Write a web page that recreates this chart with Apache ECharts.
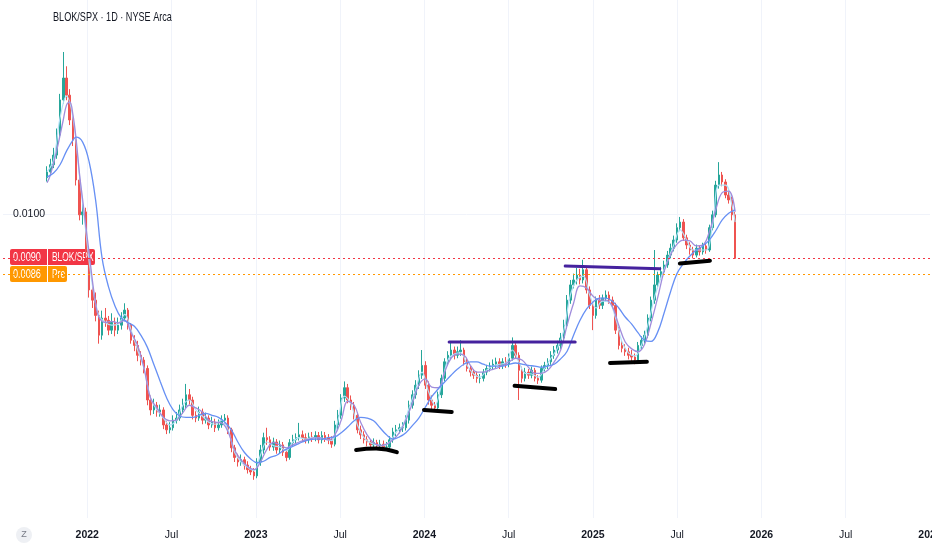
<!DOCTYPE html>
<html><head><meta charset="utf-8">
<script src="https://cdn.jsdelivr.net/npm/echarts@6/dist/echarts.min.js"></script>
<style>html,body{margin:0;padding:0;background:#fff}#c{width:932px;height:550px}</style>
</head><body><div id="c"></div>
<script>
// BLOK/SPX ratio, weekly bars. Values in units of 1e-5 (1000 = 0.0100)
const startDate = '2021-10-06';
const opens = [1090,1105,1124,1150,1206,1311,1381,1326,1250,1192,
1084,998,1005,918,835,815,786,750,781,777,
759,773,759,768,781,796,768,741,732,715,
707,693,643,628,635,625,628,606,599,602,
613,616,628,635,651,643,620,616,625,613,
616,606,610,602,606,613,616,599,574,561,
555,558,551,545,542,537,555,571,588,585,
575,582,571,578,568,561,581,585,588,592,
588,585,589,588,591,585,591,588,585,579,
606,620,646,662,643,635,620,599,592,585,
582,578,581,577,579,575,575,585,596,599,
602,602,613,635,651,666,682,698,666,643,
635,631,651,677,704,715,724,715,721,724,
704,693,687,682,677,677,687,693,697,700,
704,698,704,700,710,732,715,690,677,687,
682,690,677,674,693,698,704,715,724,732,
745,768,815,845,855,865,855,876,835,805,
786,815,805,819,825,815,805,759,732,727,
721,715,712,707,732,741,750,781,815,845,
865,872,886,907,922,940,968,981,945,929,
918,907,922,914,927,918,968,998,1071,1097,
1079,1046,1034,998];
const closes = [1105,1124,1150,1206,1311,1381,1326,1250,1192,1084,
998,1005,918,835,815,786,750,781,777,759,
773,759,768,781,796,768,741,732,715,707,
693,643,628,635,625,628,606,599,602,613,
616,628,635,651,643,620,616,625,613,616,
606,610,602,606,613,616,599,574,561,555,
558,551,545,542,537,555,571,588,585,575,
582,571,578,568,561,581,585,588,592,588,
585,589,588,591,585,591,588,585,579,606,
620,646,662,643,635,620,599,592,585,582,
578,581,577,579,575,575,585,596,599,602,
602,613,635,651,666,682,698,666,643,635,
631,651,677,704,715,724,715,721,724,704,
693,687,682,677,677,687,693,697,700,704,
698,704,700,710,732,715,690,677,687,682,
690,677,674,693,698,704,715,724,732,745,
768,815,845,855,865,855,876,835,805,786,
815,805,819,825,815,805,759,732,727,721,
715,712,707,732,741,750,781,815,845,865,
872,886,907,922,940,968,981,945,929,918,
907,922,914,927,918,968,998,1071,1097,1079,
1046,1034,998,900];
const highs = [1120,1140,1170,1225,1330,1469,1420,1345,1265,1200,
1095,1030,1015,925,850,830,795,795,800,785,
790,782,782,792,809,800,772,750,740,722,
712,698,650,645,640,636,632,612,610,620,
625,636,645,668,660,648,626,633,630,624,
620,618,615,614,620,622,620,602,578,566,
565,562,556,550,547,560,578,595,602,590,
588,586,584,582,572,586,592,594,609,598,
594,595,596,597,596,597,596,593,590,612,
628,652,672,668,650,640,624,605,597,590,
586,587,585,585,584,582,590,602,606,608,
610,620,642,658,674,690,724,705,672,650,
640,656,683,710,722,738,730,730,741,728,
710,698,692,688,684,692,699,703,708,711,
710,710,712,718,746,736,720,696,694,692,
696,694,682,698,704,710,722,731,740,754,
778,825,855,868,880,878,897,882,842,812,
822,825,826,834,832,822,810,765,740,734,
728,724,718,738,748,758,788,822,918,872,
882,895,916,932,950,978,993,988,952,935,
925,930,928,934,932,975,1008,1082,1131,1105,
1086,1055,1042,1005];
const lows = [1080,1095,1115,1140,1195,1300,1310,1235,1175,1070,
985,975,900,820,800,775,735,742,765,750,
752,748,752,760,775,760,735,722,705,698,
685,635,620,622,618,618,600,593,594,598,
608,612,622,630,636,614,610,612,607,608,
600,602,596,598,602,608,593,568,555,549,
550,545,540,538,532,534,550,566,578,570,
570,566,566,563,556,558,576,580,584,582,
580,580,582,583,580,580,582,579,574,576,
600,615,640,638,628,614,594,586,580,576,
573,574,572,573,571,570,572,581,590,594,
596,598,608,630,645,660,676,660,636,628,
625,627,646,672,698,708,708,710,714,698,
688,680,676,670,669,672,682,688,692,694,
692,692,694,695,706,710,643,670,672,676,
677,672,668,670,688,692,699,709,718,726,
740,762,808,838,846,846,848,828,798,759,
780,798,798,812,808,798,752,725,720,714,
708,705,700,704,726,735,745,775,808,838,
856,865,880,900,915,934,960,938,920,908,
900,902,906,908,910,914,962,992,1062,1068,
1038,1025,985,900];
// moving averages: [week index, value]
const maFast = [[0,1105],[2,1137],[4,1256],[6,1323],[8,1256],[10,1097],[12,958],[14,845],[16,786],[18,773],[20,768],[22,770],[24,788],[26,759],[28,724],[30,693],[32,646],[34,628],[36,616],[38,606],[40,613],[42,635],[44,643],[46,628],[48,619],[50,610],[52,607],[54,613],[56,599],[58,568],[60,555],[62,548],[64,544],[66,564],[68,582],[70,577],[72,575],[74,570],[76,582],[78,588],[80,586],[82,588],[84,588],[86,586],[88,584],[90,613],[92,649],[94,637],[96,606],[98,588],[100,581],[102,578],[104,577],[106,582],[108,596],[110,605],[112,631],[114,659],[116,687],[118,656],[120,635],[122,666],[124,707],[126,717],[128,719],[130,698],[132,684],[134,679],[136,690],[138,697],[140,700],[142,702],[144,724],[146,704],[148,685],[150,684],[152,679],[154,693],[156,710],[158,727],[160,759],[162,825],[164,855],[166,863],[168,825],[170,800],[172,813],[174,811],[176,781],[178,738],[180,719],[182,714],[184,732],[186,768],[188,819],[190,859],[192,893],[194,929],[196,963],[198,940],[200,918],[202,918],[204,918],[206,974],[208,1071],[210,1071],[212,1022],[213,981]];
const maMid = [[0,1077],[1,1097],[3,1164],[5,1250],[6,1295],[7,1305],[8,1265],[9,1192],[10,1102],[11,1034],[12,970],[13,912],[14,855],[15,809],[16,783],[18,773],[20,775],[22,772],[24,777],[26,754],[28,732],[30,693],[32,646],[34,631],[36,617],[38,612],[40,613],[42,624],[44,635],[46,631],[48,625],[50,613],[52,610],[54,609],[56,596],[58,571],[60,558],[62,549],[64,545],[66,555],[68,572],[70,581],[72,578],[74,574],[76,578],[78,582],[80,585],[84,588],[87,585],[89,592],[91,613],[93,641],[95,635],[97,610],[99,592],[101,581],[103,577],[105,579],[107,585],[109,595],[111,613],[113,638],[115,666],[117,676],[119,663],[121,662],[123,687],[125,710],[127,717],[129,715],[131,698],[133,687],[135,687],[137,690],[139,693],[141,698],[143,704],[145,710],[147,707],[149,695],[151,685],[153,685],[155,690],[157,704],[159,724],[161,768],[163,809],[165,843],[167,839],[169,823],[171,815],[173,815],[175,803],[177,768],[179,738],[181,726],[183,721],[185,734],[187,772],[189,819],[191,872],[193,907],[195,931],[197,940],[199,938],[201,927],[203,929],[205,958],[207,1010],[209,1052],[211,1056],[213,1005]];
const maSlow = [[0,1092],[2,1102],[4,1124],[6,1161],[8,1192],[9,1200],[11,1186],[13,1132],[15,1034],[17,901],[19,841],[21,804],[23,781],[25,773],[27,766],[29,750],[31,729],[33,700],[35,672],[37,646],[39,628],[41,619],[43,617],[45,617],[47,620],[49,623],[51,620],[53,617],[55,610],[57,599],[59,582],[61,568],[63,559],[65,554],[67,556],[69,561],[71,564],[73,570],[75,574],[77,578],[79,582],[81,585],[83,586],[85,586],[87,588],[89,589],[91,595],[93,603],[95,612],[97,617],[99,616],[101,612],[103,602],[105,592],[107,586],[109,589],[111,595],[113,605],[115,616],[117,632],[119,648],[121,660],[123,671],[125,682],[127,692],[129,700],[131,704],[133,704],[135,700],[137,697],[139,697],[141,697],[143,700],[145,702],[147,700],[149,698],[151,697],[153,695],[155,697],[157,700],[159,709],[161,722],[163,750],[165,777],[167,798],[169,811],[171,819],[173,819],[175,813],[177,800],[179,783],[181,770],[183,754],[185,741],[187,739],[189,755],[191,790],[193,831],[195,868],[197,889],[199,905],[201,918],[203,927],[205,940],[207,961],[209,986],[211,1002],[213,1010]];
// hand-drawn annotations: [week index, value]
const resistanceLines = [
  [[124.4,738],[163.5,738]],
  [[160.4,884],[189.7,878]]
];
const supportLines = [
  [[95.6,571],[101.8,573],[108.2,568]],
  [[116.6,628],[125.2,625]],
  [[144.7,665],[157.3,660]],
  [[174.3,702],[185.7,704]],
  [[195.9,889],[205.2,895]]
];
const lastPrice = 900, prePrice = 866;
const lastLabel = '0.0090', preLabel = '0.0086';
const symbolName = 'BLOK/SPX';
const titleText = 'BLOK/SPX · 1D · NYSE Arca';

const FONT = "'Liberation Sans',Arial,sans-serif";
const DAY = 86400000;
const t0 = new Date(startDate + 'T00:00:00Z').getTime();
function weekToYear(w) {
  const ms = t0 + w * 7 * DAY;
  const y = new Date(ms).getUTCFullYear();
  const a = Date.UTC(y, 0, 1), b = Date.UTC(y + 1, 0, 1);
  return y + (ms - a) / (b - a);
}
const candles = closes.map((c, i) => [weekToYear(i), opens[i], c, lows[i], highs[i]]);
const toXY = arr => arr.map(p => [weekToYear(p[0]), p[1]]);

const chart = echarts.init(document.getElementById('c'), null, {renderer: 'canvas'});
const series = [
  {
    type: 'candlestick', data: candles, barWidth: 2,
    itemStyle: {color: '#26a69a', color0: '#ef5350', borderColor: '#26a69a', borderColor0: '#ef5350', borderWidth: 1}
  },
  {type: 'line', data: toXY(maFast), smooth: 0.4, showSymbol: false, lineStyle: {color: '#b3e0f7', width: 1.2},
   markLine: {symbol: 'none', silent: true, animation: false, label: {show: false},
     lineStyle: {color: '#f23645', type: [2, 3], width: 1}, data: [{yAxis: lastPrice}]}},
  {type: 'line', data: toXY(maMid), smooth: 0.4, showSymbol: false, lineStyle: {color: '#a08ddc', width: 1.3},
   markLine: {symbol: 'none', silent: true, animation: false, label: {show: false},
     lineStyle: {color: '#ff9800', type: [2, 3], width: 1}, data: [{yAxis: prePrice}]}},
  {type: 'line', data: toXY(maSlow), smooth: 0.4, showSymbol: false, lineStyle: {color: '#6790f4', width: 1.3}}
];
resistanceLines.forEach(l => series.push({type: 'line', data: toXY(l), showSymbol: false, lineStyle: {color: '#45229e', width: 3, cap: 'round'}}));
supportLines.forEach(l => series.push({type: 'line', data: toXY(l), smooth: 0.5, showSymbol: false, lineStyle: {color: '#000000', width: 4, cap: 'round'}}));

chart.setOption({
  animation: false,
  backgroundColor: '#ffffff',
  grid: {left: 3, right: 2, top: 0, bottom: 32, outerBoundsMode: 'none', containLabel: false},
  xAxis: {
    type: 'value', min: 2021.5, max: 2027, interval: 0.5,
    axisLine: {show: false}, axisTick: {show: false},
    splitLine: {show: true, showMinLine: false, showMaxLine: false, lineStyle: {color: '#f0f3fa', width: 1}},
    axisLabel: {
      margin: 12, showMaxLabel: true, hideOverlap: false,
      formatter: v => {
        if (v < 2021.9) return '';
        const r = Math.round(v * 2) / 2;
        return Number.isInteger(r) ? '{y|' + r + '}' : '{m|Jul}';
      },
      rich: {
        y: {fontSize: 10.5, fontWeight: 'bold', color: '#131722', fontFamily: FONT},
        m: {fontSize: 10.5, color: '#131722', fontFamily: FONT}
      }
    }
  },
  yAxis: {
    type: 'log', logBase: 10, min: 485.9, max: 1662,
    axisLine: {show: false}, axisTick: {show: false},
    splitLine: {show: true, showMinLine: false, showMaxLine: false, lineStyle: {color: '#f0f3fa', width: 1}},
    axisLabel: {inside: true, margin: 10, fontSize: 10.5, color: '#131722', fontFamily: FONT,
      formatter: v => Math.abs(v - 1000) < 1 ? '0.0100' : ''}
  },
  series: series
});

const yLast = chart.convertToPixel({yAxisIndex: 0}, lastPrice);
const yPre = chart.convertToPixel({yAxisIndex: 0}, prePrice);
function tag(y, color, left, right, rightW) {
  return {
    type: 'group', x: 10, y: Math.round(y) - 9, z: 100,
    children: [
      {type: 'rect', shape: {x: 0, y: 0, width: 37, height: 16, r: [2, 0, 0, 2]}, style: {fill: color}},
      {type: 'rect', shape: {x: 38, y: 0, width: rightW, height: 16, r: [0, 2, 2, 0]}, style: {fill: color}},
      {type: 'text', x: 3, y: 8.5, scaleX: 0.76, style: {text: left, fill: '#fff', font: '12px ' + FONT, verticalAlign: 'middle'}},
      {type: 'text', x: 42, y: 8.5, scaleX: 0.7, style: {text: right, fill: '#fff', font: '12px ' + FONT, verticalAlign: 'middle'}}
    ]
  };
}
chart.setOption({
  graphic: [
    {type: 'text', x: 53, y: 17, scaleX: 0.7, z: 100, style: {text: titleText, fill: '#131722', font: '13px ' + FONT, verticalAlign: 'middle'}},
    tag(yLast, '#f23645', lastLabel, symbolName, 47),
    tag(yPre, '#ff9800', preLabel, 'Pre', 19),
    {type: 'circle', shape: {cx: 24, cy: 535, r: 8}, style: {fill: '#eef0f4'}, z: 100},
    {type: 'text', x: 24, y: 535, z: 101, style: {text: 'Z', fill: '#787b86', font: '9px ' + FONT, align: 'center', verticalAlign: 'middle'}}
  ]
});
</script></body></html>
